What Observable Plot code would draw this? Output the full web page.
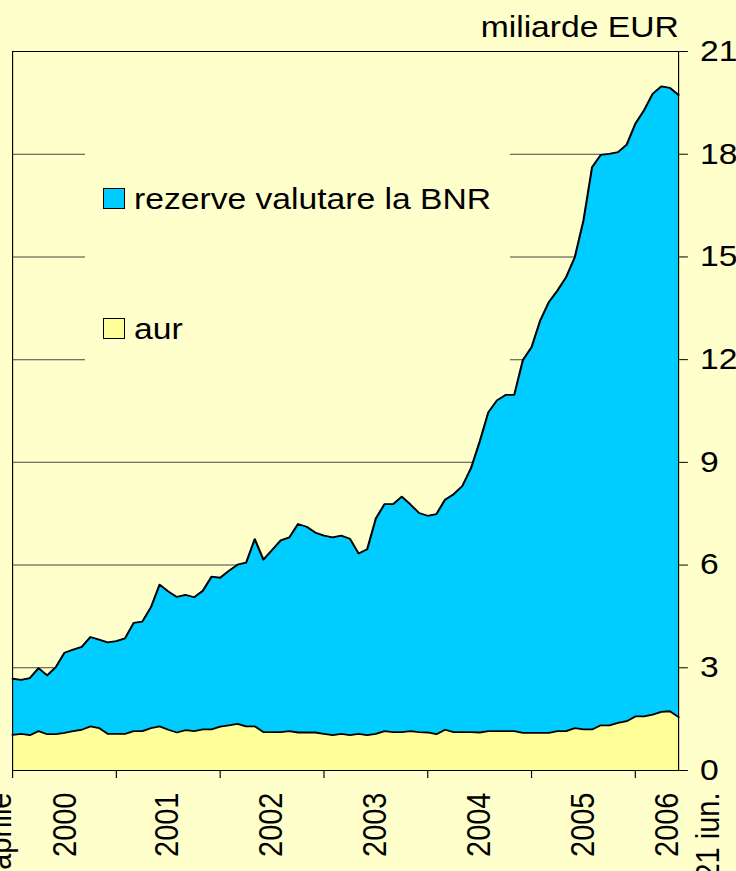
<!DOCTYPE html>
<html>
<head>
<meta charset="utf-8">
<script src="https://cdn.jsdelivr.net/npm/d3@7"></script>
<script src="https://cdn.jsdelivr.net/npm/@observablehq/plot@0.6"></script>
<style>
  html, body { margin: 0; padding: 0; background: #FFFFCC; overflow: hidden; }
  #wrap { position: relative; width: 736px; height: 871px; font-family: "Liberation Sans", Arial, sans-serif; color: #000; }
  .t { position: absolute; font-size: 29px; line-height: 29px; white-space: nowrap; transform: scaleX(1.16); transform-origin: 0 0; }
  .sw { position: absolute; width: 20px; height: 19px; border: 1px solid #000; }
  #legend { position: absolute; left: 85px; top: 138px; width: 425px; height: 236px; background: #FFFFCC; }
</style>
</head>
<body>
<div id="wrap"></div>
<script>
// ---- data (billions EUR), monthly points ----
const serii = ["aur", "rezerve valutare la BNR"];
const culori = ["#FFFF99", "#00CCFF"];

const aur = [
  1.04, 1.07, 1.03, 1.15, 1.06, 1.06, 1.10, 1.15, 1.19, 1.29,
  1.24, 1.07, 1.07, 1.07, 1.15, 1.15, 1.24, 1.29, 1.19, 1.11,
  1.18, 1.15, 1.20, 1.20, 1.28, 1.32, 1.36, 1.29, 1.29, 1.12,
  1.12, 1.12, 1.15, 1.11, 1.11, 1.11, 1.07, 1.03, 1.07, 1.03,
  1.07, 1.03, 1.07, 1.15, 1.12, 1.12, 1.15, 1.12, 1.11, 1.06,
  1.19, 1.12, 1.12, 1.12, 1.11, 1.15, 1.15, 1.15, 1.15, 1.10,
  1.10, 1.10, 1.10, 1.15, 1.15, 1.24, 1.20, 1.20, 1.32, 1.32,
  1.39, 1.44, 1.58, 1.58, 1.63, 1.71, 1.73, 1.56
];

const rezerve = [
  1.64, 1.58, 1.67, 1.84, 1.72, 1.96, 2.34, 2.38, 2.42, 2.61,
  2.58, 2.67, 2.71, 2.79, 3.16, 3.20, 3.53, 4.14, 4.04, 3.96,
  3.95, 3.91, 4.05, 4.46, 4.35, 4.51, 4.65, 4.78, 5.47, 5.04,
  5.32, 5.60, 5.66, 6.09, 6.01, 5.84, 5.79, 5.78, 5.79, 5.74,
  5.27, 5.43, 6.29, 6.63, 6.66, 6.88, 6.62, 6.40, 6.33, 6.43,
  6.72, 6.95, 7.19, 7.71, 8.49, 9.31, 9.66, 9.82, 9.82, 10.89,
  11.26, 12.04, 12.58, 12.87, 13.26, 13.75, 14.86, 16.42, 16.66, 16.69,
  16.67, 16.84, 17.31, 17.70, 18.13, 18.27, 18.21, 18.17
];

// x-axis: month index; tick marks every 12 months, labels between them
const tickuriX = [0, 12, 24, 36, 48, 60, 72];
const etichete = ["aprilie", "2000", "2001", "2002", "2003", "2004", "2005", "2006", "21 iun."];
const pozitiiEtichete = [-1.5, 6, 17.8, 29.9, 41.9, 53.9, 66, 75.7, 80.4];
const tickuriY = [0, 3, 6, 9, 12, 15, 18, 21];
const gridY = [3, 6, 9, 12, 15, 18];
const titlu = "miliarde EUR";

// ---- build ----
const S = 736 / 634;   // horizontal stretch of the original picture
const W = 634;

const rows = [];
serii.forEach((s, k) => {
  const vals = k === 0 ? aur : rezerve;
  vals.forEach((v, i) => rows.push({i, serie: s, v}));
});
const labels = etichete.map((t, k) => ({t, p: pozitiiEtichete[k]}));

const svg = Plot.plot({
  width: W,
  height: 871,
  marginLeft: 12 / S,
  marginRight: 58 / S,
  marginTop: 51,
  marginBottom: 101,
  style: {background: "#FFFFCC", fontFamily: '"Liberation Sans", Arial, sans-serif', fontSize: "29px", color: "#000", overflow: "visible"},
  x: {domain: [0, aur.length - 1], axis: null},
  y: {domain: [0, 21], axis: null},
  color: {domain: serii, range: culori},
  marks: [
    Plot.gridY({ticks: gridY, stroke: "#444", strokeOpacity: 1, strokeWidth: 1}),
    Plot.areaY(rows, {x: "i", y: "v", fill: "serie", z: "serie"}),
    Plot.lineY(rows, Plot.stackY2({x: "i", y: "v", z: "serie", stroke: "#000", strokeWidth: 1.8})),
    Plot.frame({stroke: "#000", strokeWidth: 1}),
    Plot.axisY({ticks: tickuriY, anchor: "right", tickSize: 7.5, tickPadding: 11, fontSize: 29, label: null, tickFormat: d => String(d)}),
    Plot.axisX({ticks: tickuriX, anchor: "bottom", tickSize: 8, tickFormat: () => "", label: null}),
    Plot.text(labels, {x: "p", text: "t", frameAnchor: "bottom", dx: 9.5, dy: 22, rotate: -90, textAnchor: "end", fontSize: 29, fill: "#000"})
  ]
});

svg.setAttribute("width", 736);
svg.setAttribute("height", 871);
svg.setAttribute("preserveAspectRatio", "none");
svg.style.width = "736px";
svg.style.height = "871px";
svg.style.maxWidth = "none";
svg.style.display = "block";

const wrap = document.getElementById("wrap");
wrap.appendChild(svg);

// legend box (covers the gridlines like the original)
const leg = document.createElement("div");
leg.id = "legend";
wrap.appendChild(leg);
const legTops = {"rezerve valutare la BNR": 188, "aur": 318};
serii.forEach((s, k) => {
  const sw = document.createElement("div");
  sw.className = "sw";
  sw.style.left = "103px";
  sw.style.top = legTops[s] + "px";
  sw.style.background = culori[k];
  wrap.appendChild(sw);
  const tx = document.createElement("div");
  tx.className = "t";
  tx.style.left = "134px";
  tx.style.top = (legTops[s] - 3.5) + "px";
  tx.textContent = s;
  wrap.appendChild(tx);
});

// unit title
const tt = document.createElement("div");
tt.className = "t";
tt.style.right = "56.7px";
tt.style.top = "12.8px";
tt.style.transformOrigin = "100% 0";
tt.textContent = titlu;
wrap.appendChild(tt);
</script>
</body>
</html>
